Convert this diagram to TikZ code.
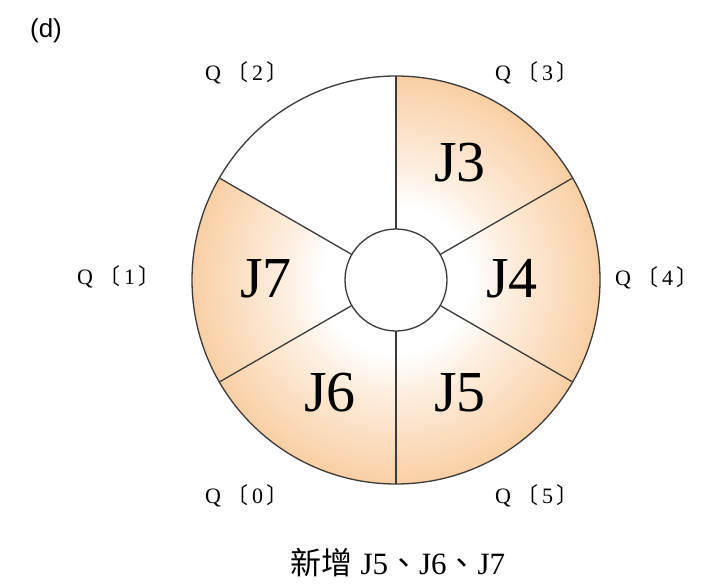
\documentclass[tikz,border=0pt]{standalone}
\usepackage{fontspec}
\setmainfont{Liberation Serif}
\newfontfamily\cjkfont{Noto Sans CJK TC}
\newfontfamily\labsans{Liberation Sans}
\definecolor{ringorange}{HTML}{F6B270}
\definecolor{ringmid}{HTML}{F9CFA4}
\definecolor{ringlight}{HTML}{FDEEDF}
\definecolor{ringline}{HTML}{3A3A3A}
\pgfdeclareradialshading{ringshade}{\pgfpoint{0bp}{0bp}}{%
  color(0bp)=(white); color(9bp)=(white); color(14bp)=(ringlight);
  color(25bp)=(ringmid); color(35bp)=(ringorange); color(50bp)=(ringorange)}
\tikzset{
  jlabel/.style={font=\fontsize{58}{58}\selectfont, inner sep=0pt},
  qlabel/.style={font=\fontsize{22}{22}\selectfont, inner sep=0pt, text=black},
  ringstroke/.style={draw=ringline, line width=1.3pt},
}
\newcommand{\qtxt}[1]{Q\hspace{0.25em}{\cjkfont 〔}\,#1\,{\cjkfont 〕}}
\begin{document}
\begin{tikzpicture}[x=1pt,y=-1pt]
\useasboundingbox (0,0) rectangle (709,587);
\fill[white] (0,0) rectangle (709,587);
\begin{scope}[shift={(396,280)}, y=1pt]
  \coordinate (c) at (0,0);
  \begin{scope}
    \clip (0,0) -- (150:204) arc[start angle=150, end angle=450, radius=204] -- cycle;
    \shade[shading=ringshade] (0,0) circle (204);
  \end{scope}
  \foreach \a in {30,90,150,210,270,330} {
    \coordinate (e\a) at (\a:204);
    \draw[ringstroke] (c) -- (e\a);
  }
  \draw[ringstroke] (c) circle (204);
  \filldraw[ringstroke, fill=white] (c) circle (51);
\end{scope}
\node[jlabel] (j3) at (460,163) {J3};
\node[jlabel] (j4) at (512,279) {J4};
\node[jlabel] (j5) at (460,393) {J5};
\node[jlabel] (j6) at (330,393) {J6};
\node[jlabel] (j7) at (266,279) {J7};
\node[qlabel] (q2) at (247,73) {\qtxt{2}};
\node[qlabel] (q3) at (537,73) {\qtxt{3}};
\node[qlabel] (q1) at (119,277) {\qtxt{1}};
\node[qlabel] (q4) at (657,278) {\qtxt{4}};
\node[qlabel] (q0) at (247,496) {\qtxt{0}};
\node[qlabel] (q5) at (537,496) {\qtxt{5}};
\node[font=\labsans\fontsize{26}{26}\selectfont, inner sep=0pt] (d) at (46,31) {(d)};
\node[font=\fontsize{31}{31}\selectfont, inner sep=0pt] (cap) at (398,563)
  {{\cjkfont 新增} J5{\cjkfont 、}J6{\cjkfont 、}J7};
\end{tikzpicture}
\end{document}
